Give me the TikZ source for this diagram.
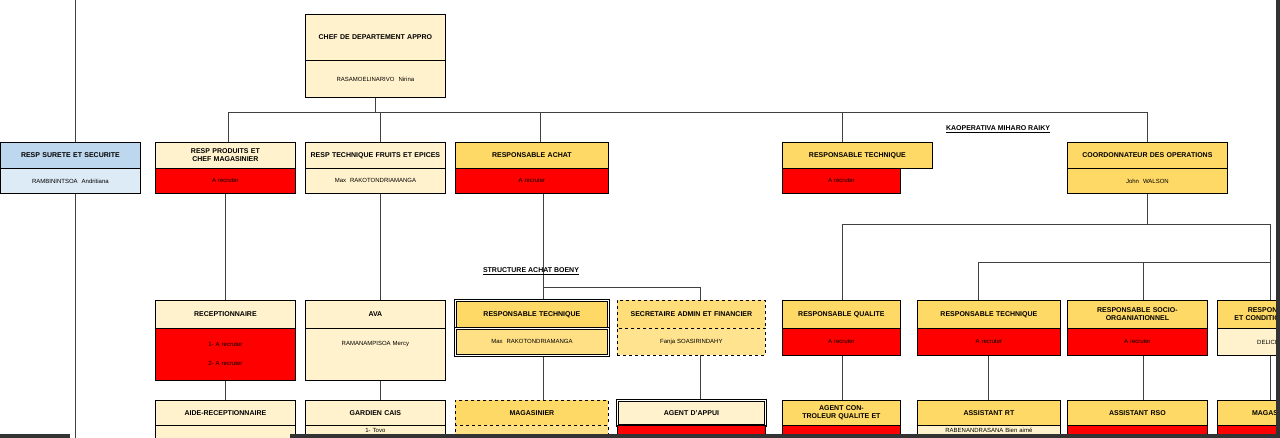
\documentclass[tikz,border=0pt]{standalone}
\usepackage{fontspec}
\setmainfont{Liberation Sans}
\usetikzlibrary{positioning}
\definecolor{pale}{HTML}{FFF2CC}
\definecolor{gold}{HTML}{FFD966}
\definecolor{hire}{HTML}{FF0000}
\definecolor{sky}{HTML}{BDD7EE}
\definecolor{palesky}{HTML}{DDEBF7}
\tikzset{
  cell/.style={draw, line width=.8pt, inner sep=0pt, anchor=north west, align=center, text width=#1pt-8pt, minimum width=#1pt},
  hd/.style={cell=#1, font=\fontsize{7}{8}\selectfont\bfseries},
  bd/.style={cell=#1, font=\fontsize{6}{7}\selectfont},
  link/.style={line width=.8pt, black!75}
}
\begin{document}
\begin{tikzpicture}[x=1pt, y=-1pt]
\useasboundingbox (0,0) rectangle (1280,438);
\clip (0,0) rectangle (1280,438);
% connectors
\coordinate (bar1w) at (228,112); \coordinate (bar1e) at (1147,112);
\draw[link] (bar1w) -- (bar1e);
\draw[link] (75,0) -- (75,142);
\draw[link] (75,193) -- (75,438);
\draw[link] (375,97) -- (375,112);
\foreach \x in {228,380,540,842,1147}
  \draw[link] (\x,112) -- (\x,142);
\draw[link] (225,193) -- (225,300);
\draw[link] (380,193) -- (380,300);
\draw[link] (543,193) -- (543,300);
\draw[link] (543,287) -- (700,287) -- (700,300);
\draw[link] (1147,193) -- (1147,224);
\draw[link] (842,300) -- (842,224) -- (1270,224) -- (1270,438);
\draw[link] (978,300) -- (978,262) -- (1270,262);
\draw[link] (1143,262) -- (1143,300);
\draw[link] (225,380) -- (225,400);
\draw[link] (380,380) -- (380,400);
\draw[link] (543,355) -- (543,400);
\draw[link] (700,355) -- (700,400);
\draw[link] (842,355) -- (842,400);
\draw[link] (988,355) -- (988,400);
\draw[link] (1143,355) -- (1143,400);
% head
\node[hd=140, fill=pale, minimum height=46pt] (chef) at (305,14) {CHEF DE DEPARTEMENT APPRO};
\node[bd=140, fill=pale, minimum height=37pt] (chefn) at (305,60) {RASAMOELINARIVO\ \ Nirina};
% level 2
\node[hd=140, fill=sky, minimum height=26pt] (surete) at (0,142) {RESP SURETE ET SECURITE};
\node[bd=140, fill=palesky, minimum height=25pt] (suret en) at (0,168) {RAMBININTSOA\ \ Andritiana};
\node[hd=140, fill=pale, minimum height=26pt] (prod) at (155,142) {RESP PRODUITS ET CHEF MAGASINIER};
\node[bd=140, fill=hire, minimum height=25pt] (prodn) at (155,168) {A recruter};
\node[hd=140, fill=pale, minimum height=26pt] (fruits) at (305,142) {RESP TECHNIQUE FRUITS ET EPICES};
\node[bd=140, fill=pale, minimum height=25pt] (fruitsn) at (305,168) {Max\ \ RAKOTONDRIAMANGA};
\node[hd=153, fill=gold, minimum height=26pt] (achat) at (455,142) {RESPONSABLE ACHAT};
\node[bd=153, fill=hire, minimum height=25pt] (achatn) at (455,168) {A recruter};
\node[hd=118, fill=gold, minimum height=26pt, text width=150pt] (tech) at (782,142) {RESPONSABLE TECHNIQUE};
\node[bd=118, fill=hire, minimum height=25pt] (techn) at (782,168) {A recruter};
\node[hd=160, fill=gold, minimum height=26pt] (coord) at (1067,142) {COORDONNATEUR DES OPERATIONS};
\node[bd=160, fill=gold, minimum height=25pt] (coordn) at (1067,168) {John\ \ WALSON};
% titles
\node[font=\fontsize{7}{8}\selectfont\bfseries] (kaop) at (998,129) {\underline{KAOPERATIVA MIHARO RAIKY}};
\node[font=\fontsize{7}{8}\selectfont\bfseries] (boeny) at (531,271) {\underline{STRUCTURE ACHAT BOENY}};
% level 3
\node[hd=140, fill=pale, minimum height=28pt] (recep) at (155,300) {RECEPTIONNAIRE};
\node[bd=140, fill=hire, minimum height=52pt] (recepn) at (155,328) {1- A recruter\\[12pt]2- A recruter};
\node[hd=140, fill=pale, minimum height=28pt] (ava) at (305,300) {AVA};
\node[bd=140, fill=pale, minimum height=52pt] (avan) at (305,328) {RAMANAMPISOA Mercy\\[14pt]\ };
\node[hd=153, fill=gold, minimum height=28pt, double, double distance=1.5pt] (rtb) at (455,300) {RESPONSABLE TECHNIQUE};
\node[bd=153, fill=gold!70!pale, minimum height=27pt, double, double distance=1.5pt] (rtbn) at (455,328) {Max\ \ RAKOTONDRIAMANGA};
\node[hd=148, fill=gold!80!pale, minimum height=28pt, dashed] (secr) at (617,300) {SECRETAIRE ADMIN ET FINANCIER};
\node[bd=148, fill=gold!60!pale, minimum height=27pt, dashed] (secrn) at (617,328) {Fanja SOASIRINDAHY};
\node[hd=118, fill=gold, minimum height=28pt] (qual) at (782,300) {RESPONSABLE QUALITE};
\node[bd=118, fill=hire, minimum height=27pt] (qualn) at (782,328) {A recruter};
\node[hd=143, fill=gold, minimum height=28pt] (rt) at (917,300) {RESPONSABLE TECHNIQUE};
\node[bd=143, fill=hire, minimum height=27pt] (rtn) at (917,328) {A recruter};
\node[hd=140, fill=gold, minimum height=28pt] (rso) at (1067,300) {RESPONSABLE SOCIO-ORGANIATIONNEL};
\node[bd=140, fill=hire, minimum height=27pt] (rson) at (1067,328) {A recruter};
\node[hd=120, fill=gold, minimum height=28pt] (cond) at (1217,300) {\hspace*{-6pt}RESPONSABLE\\ \hspace*{-6pt}ET CONDITIONNEMENT};
\node[bd=120, fill=pale, minimum height=27pt] (condn) at (1217,328) {\hspace*{-4pt}DELICIE Joél};
% level 4
\node[hd=140, fill=pale, minimum height=25pt] (aide) at (155,400) {AIDE-RECEPTIONNAIRE};
\node[bd=140, fill=pale, minimum height=20pt] (aiden) at (155,425) {};
\node[hd=140, fill=pale, minimum height=25pt] (gard) at (305,400) {GARDIEN CAIS};
\node[bd=140, fill=pale, minimum height=20pt, text depth=10pt] (gardn) at (305,425) {1- Tovo};
\node[hd=153, fill=gold, minimum height=25pt, dashed] (mag) at (455,400) {MAGASINIER};
\node[bd=153, fill=gold!70!pale, minimum height=20pt, dashed] (magn) at (455,425) {};
\node[hd=148, fill=pale, minimum height=25pt, double, double distance=1.5pt] (appui) at (617,400) {AGENT D'APPUI};
\node[bd=148, fill=hire, minimum height=20pt] (appuin) at (617,425) {};
\node[hd=118, fill=gold, minimum height=25pt] (ctrl) at (782,400) {AGENT CONTROLEUR QUALITE ET};
\node[bd=118, fill=hire, minimum height=20pt] (ctrln) at (782,425) {};
\node[hd=143, fill=gold, minimum height=25pt] (art) at (917,400) {ASSISTANT RT};
\node[bd=143, fill=pale, minimum height=20pt, text depth=10pt] (artn) at (917,425) {RABENANDRASANA Bien aimé};
\node[hd=140, fill=gold, minimum height=25pt] (arso) at (1067,400) {ASSISTANT RSO};
\node[bd=140, fill=hire, minimum height=20pt] (arson) at (1067,425) {};
\node[hd=120, fill=gold, minimum height=25pt] (mag2) at (1217,400) {\hspace*{-6pt}MAGASINIER};
\node[bd=120, fill=hire, minimum height=20pt] (mag2n) at (1217,425) {};
% screen edges
\fill[black!80] (0,434) rectangle (70,438);
\fill[black!80] (290,434) rectangle (1280,438);
\fill[black!80] (1276,0) rectangle (1280,438);
\end{tikzpicture}
\end{document}
